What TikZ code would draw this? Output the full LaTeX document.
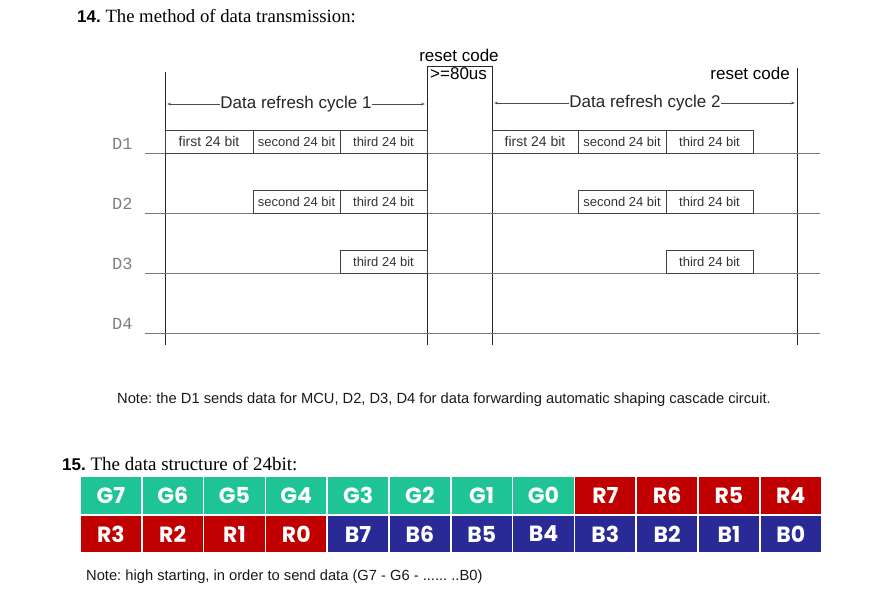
\documentclass[tikz,border=0pt]{standalone}
\usepackage{fontspec}
\setmainfont{Liberation Serif}
\newfontfamily\arialf{Liberation Sans}
\newfontfamily\monof{Liberation Mono}
\newfontfamily\cellfont{Poppins}
\usetikzlibrary{arrows.meta}
\definecolor{cgreen}{RGB}{30,196,150}
\definecolor{cred}{RGB}{192,0,0}
\definecolor{cblue}{RGB}{42,42,150}
\definecolor{lgray}{RGB}{120,120,120}
\frenchspacing
\tikzset{
  bitbox/.style={draw=black!75, line width=0.7pt, inner sep=0pt, minimum height=23pt, text=black!80, font=\arialf\fontsize{13}{15}\selectfont},
  dline/.style={draw=lgray, line width=0.9pt},
  vline/.style={draw=black!85, line width=0.9pt},
  dlabel/.style={text=black!50, font=\monof\fontsize{17}{19}\selectfont, anchor=base west, inner sep=0pt},
  cyclearrow/.style={draw=black!70, line width=0.6pt, {Stealth[length=4pt,width=2.5pt]}-{Stealth[length=4pt,width=2.5pt]}},
  cyctext/.style={fill=white, inner sep=0.5pt, font=\arialf\fontsize{17}{19}\selectfont, text=black!85},
  cell/.style={draw=white, line width=1.5pt, minimum width=61.8pt, inner sep=0pt, text=white, font=\cellfont\bfseries\fontsize{22}{24}\selectfont},
  notetext/.style={anchor=base west, inner sep=0pt, font=\arialf\fontsize{14.7}{16}\selectfont, text=black!90},
}
\begin{document}
\begin{tikzpicture}[x=1pt,y=-1pt]
\useasboundingbox (0,0) rectangle (885,594);
% title 14
\node[anchor=base west, inner sep=0pt] (t14) at (77,23) {{\arialf\bfseries\fontsize{17}{19}\selectfont 14.}\fontsize{18.7}{21}\selectfont\ The method of data transmission:};

% coordinates for vertical lines
\coordinate (vl1t) at (165,72); \coordinate (vl1b) at (165,345);
\coordinate (vl2t) at (427,66); \coordinate (vl2b) at (427,345);
\coordinate (vl3t) at (492,66); \coordinate (vl3b) at (492,345);
\coordinate (vl4t) at (797,68); \coordinate (vl4b) at (797,345);
\draw[vline] (vl1t) -- (vl1b);
\draw[vline] (vl2b) -- (vl2t) -- (vl3t) -- (vl3b);
\draw[vline] (vl4t) -- (vl4b);

% reset code labels
\node[anchor=base, inner sep=0pt, font=\arialf\fontsize{17}{19}\selectfont] (rc1) at (459,62) {reset code};
\node[anchor=base west, inner sep=0pt, font=\arialf\fontsize{17}{19}\selectfont] (us) at (430,79) {>=80us};
\node[anchor=base east, inner sep=0pt, font=\arialf\fontsize{17}{19}\selectfont] (rc2) at (790,79) {reset code};

% cycle arrows
\coordinate (c1l) at (167,104); \coordinate (c1r) at (425,104);
\draw[cyclearrow] (c1l) -- (c1r);
\node[cyctext] (cy1) at (296,104) {Data refresh cycle 1};
\coordinate (c2l) at (494,103); \coordinate (c2r) at (795,103);
\draw[cyclearrow] (c2l) -- (c2r);
\node[cyctext] (cy2) at (645,103) {Data refresh cycle 2};

% data lines
\foreach \n/\y in {1/153,2/213,3/273,4/333}{
  \coordinate (L\n a) at (145,\y);
  \coordinate (L\n b) at (820,\y);
  \draw[dline] (L\n a) -- (L\n b);
  \node[dlabel] (D\n) at (112,\y-4) {D\n};
}

% boxes cycle 1
\node[bitbox, minimum width=88pt, font=\arialf\fontsize{14}{16}\selectfont] (a11) at (209,141.5) {first 24 bit};
\node[bitbox, minimum width=87pt] (a12) at (296.5,141.5) {second 24 bit};
\node[bitbox, minimum width=87pt] (a13) at (383.5,141.5) {third 24 bit};
\node[bitbox, minimum width=87pt] (a22) at (296.5,201.5) {second 24 bit};
\node[bitbox, minimum width=87pt] (a23) at (383.5,201.5) {third 24 bit};
\node[bitbox, minimum width=87pt] (a33) at (383.5,261.5) {third 24 bit};
% boxes cycle 2
\node[bitbox, minimum width=86pt, font=\arialf\fontsize{14}{16}\selectfont] (b11) at (535,141.5) {first 24 bit};
\node[bitbox, minimum width=88pt] (b12) at (622,141.5) {second 24 bit};
\node[bitbox, minimum width=87pt] (b13) at (709.5,141.5) {third 24 bit};
\node[bitbox, minimum width=88pt] (b22) at (622,201.5) {second 24 bit};
\node[bitbox, minimum width=87pt] (b23) at (709.5,201.5) {third 24 bit};
\node[bitbox, minimum width=87pt] (b33) at (709.5,261.5) {third 24 bit};

% note 1
\node[notetext] (n1) at (117,403) {Note: the D1 sends data for MCU, D2, D3, D4 for data forwarding automatic shaping cascade circuit.};

% title 15
\node[anchor=base west, inner sep=0pt] (t15) at (62,470) {{\arialf\bfseries\fontsize{17}{19}\selectfont 15.}\fontsize{19}{21}\selectfont\ The data structure of 24bit:};

% table
\foreach \lab [count=\i from 0] in {G7,G6,G5,G4,G3,G2,G1,G0}{
  \node[cell, fill=cgreen, minimum height=39pt] (g\i) at (80+30.9+61.8*\i,495.5) {\lab};
}
\foreach \lab [count=\i from 8] in {R7,R6,R5,R4}{
  \node[cell, fill=cred, minimum height=39pt] (r\i) at (80+30.9+61.8*\i,495.5) {\lab};
}
\foreach \lab [count=\i from 0] in {R3,R2,R1,R0}{
  \node[cell, fill=cred, minimum height=38pt] (s\i) at (80+30.9+61.8*\i,534) {\lab};
}
\foreach \lab [count=\i from 4] in {B7,B6,B5,B4,B3,B2,B1,B0}{
  \node[cell, fill=cblue, minimum height=38pt] (u\i) at (80+30.9+61.8*\i,534) {\lab};
}

% note 2
\node[notetext] (n2) at (86,580) {Note: high starting, in order to send data (G7 - G6 - ...... ..B0)};
\end{tikzpicture}
\end{document}
